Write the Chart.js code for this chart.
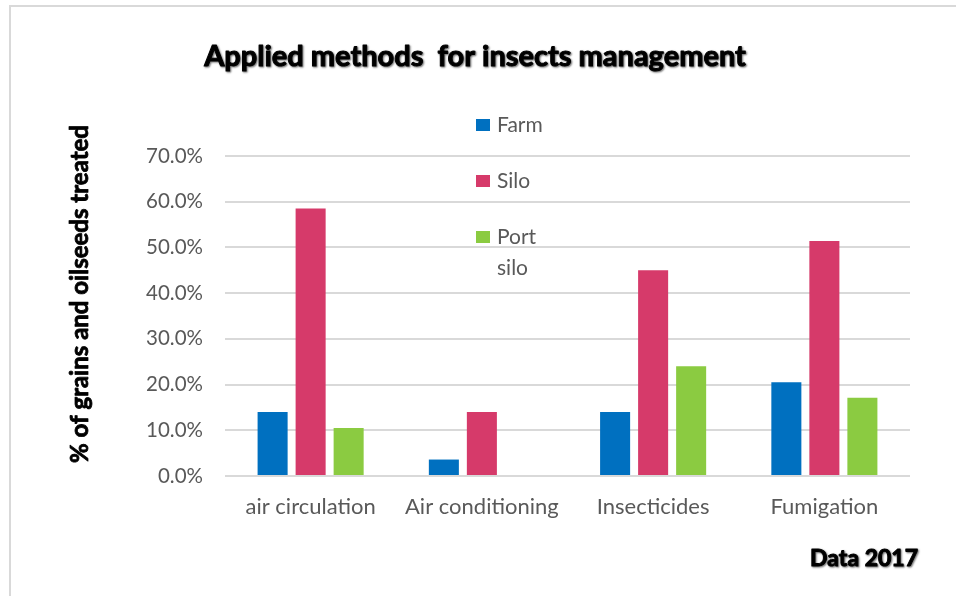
<!DOCTYPE html>
<html>
<head>
<meta charset="utf-8">
<script src="https://cdn.jsdelivr.net/npm/chart.js@4/dist/chart.umd.min.js"></script>
<style>
  html, body { margin: 0; padding: 0; background: #fff; overflow: hidden; }
  #wrap { position: relative; width: 956px; height: 596px; }
  #frame { position: absolute; left: 9px; top: 5px; width: 1000px; height: 1000px;
           border-top: 2px solid #d9d9d9; border-left: 2px solid #d9d9d9; }
  #insects { position: absolute; left: 0; top: 0; }
</style>
</head>
<body>
<div id="wrap">
  <div id="frame"></div>
  <canvas id="insects" width="956" height="596"></canvas>
</div>
<script>
// categories and values (% of grains treated)
const methods = ['air circulation', 'Air conditioning', 'Insecticides', 'Fumigation'];
const farm = [14.0, 3.6, 14.0, 20.5];
const silo = [58.5, 14.0, 45.0, 51.4];
const portSilo = [10.5, 0, 24.0, 17.1];
const seriesNames = ['Farm', 'Silo', 'Port silo'];
const seriesColors = ['#0070c0', '#d63a6a', '#8bcb41'];

const chartTitle = 'Applied methods  for insects management';
const yTitle = '% of grains and oilseeds treated';
const footNote = 'Data 2017';

const sansFont = 'Lato, "Open Sans", sans-serif';

// title, axis title, footnote and the legend in the plot area
const decorations = {
  id: 'decorations',
  afterDraw(chart) {
    const ctx = chart.ctx;
    ctx.save();

    // heavy title with a soft shadow
    ctx.fillStyle = '#000';
    ctx.strokeStyle = '#000';
    ctx.lineJoin = 'round';
    ctx.shadowColor = 'rgba(0,0,0,0.5)';
    ctx.shadowOffsetX = 1;
    ctx.shadowOffsetY = 1;
    ctx.shadowBlur = 2;
    ctx.font = 'bold 29px ' + sansFont;
    ctx.textAlign = 'center';
    ctx.textBaseline = 'middle';
    ctx.lineWidth = 1;
    ctx.strokeText(chartTitle, 475, 57);
    ctx.fillText(chartTitle, 475, 57);

    ctx.font = 'bold 23px ' + sansFont;
    ctx.textAlign = 'right';
    ctx.strokeText(footNote, 918, 559);
    ctx.fillText(footNote, 918, 559);

    ctx.shadowColor = 'transparent';
    ctx.font = 'bold 24px ' + sansFont;
    ctx.translate(80, 294);
    ctx.rotate(-Math.PI / 2);
    ctx.textAlign = 'center';
    ctx.lineWidth = 0.8;
    ctx.strokeText(yTitle, 0, 0);
    ctx.fillText(yTitle, 0, 0);
    ctx.restore();

    // legend: one entry per dataset, long labels wrap
    ctx.save();
    ctx.font = '21px ' + sansFont;
    ctx.textBaseline = 'middle';
    ctx.textAlign = 'left';
    chart.data.datasets.forEach((ds, i) => {
      const y = 125 + i * 56;
      ctx.fillStyle = ds.backgroundColor;
      ctx.fillRect(476, y - 6, 14, 12);
      ctx.fillStyle = '#595959';
      const words = ds.label.split(' ');
      words.forEach((w, j) => ctx.fillText(w, 497, y + j * 31));
    });
    ctx.restore();
  }
};

const ctx = document.getElementById('insects').getContext('2d');
new Chart(ctx, {
  type: 'bar',
  data: {
    labels: methods,
    datasets: [farm, silo, portSilo].map((vals, i) => ({
      label: seriesNames[i],
      data: vals,
      backgroundColor: seriesColors[i],
      borderWidth: 0,
      categoryPercentage: 0.666,
      barPercentage: 0.79
    }))
  },
  options: {
    responsive: false,
    animation: false,
    layout: { padding: { left: 10, right: 46, top: 156, bottom: 60 } },
    plugins: {
      legend: { display: false },
      title: { display: false },
      tooltip: { enabled: false }
    },
    scales: {
      x: {
        grid: { display: false, drawTicks: false },
        border: { display: false },
        ticks: { color: '#595959', font: { family: sansFont, size: 22 }, padding: 18, maxRotation: 0 },
        afterFit(scale) { scale.height = 60; }
      },
      y: {
        min: 0,
        max: 70,
        grid: { color: '#d9d9d9', lineWidth: 2, drawTicks: false },
        border: { display: false },
        ticks: {
          stepSize: 10,
          color: '#595959',
          padding: 22,
          font: { family: sansFont, size: 20.5 },
          callback: v => v.toFixed(1) + '%'
        },
        afterFit(scale) { scale.width = 215; }
      }
    }
  },
  plugins: [decorations]
});
</script>
</body>
</html>
